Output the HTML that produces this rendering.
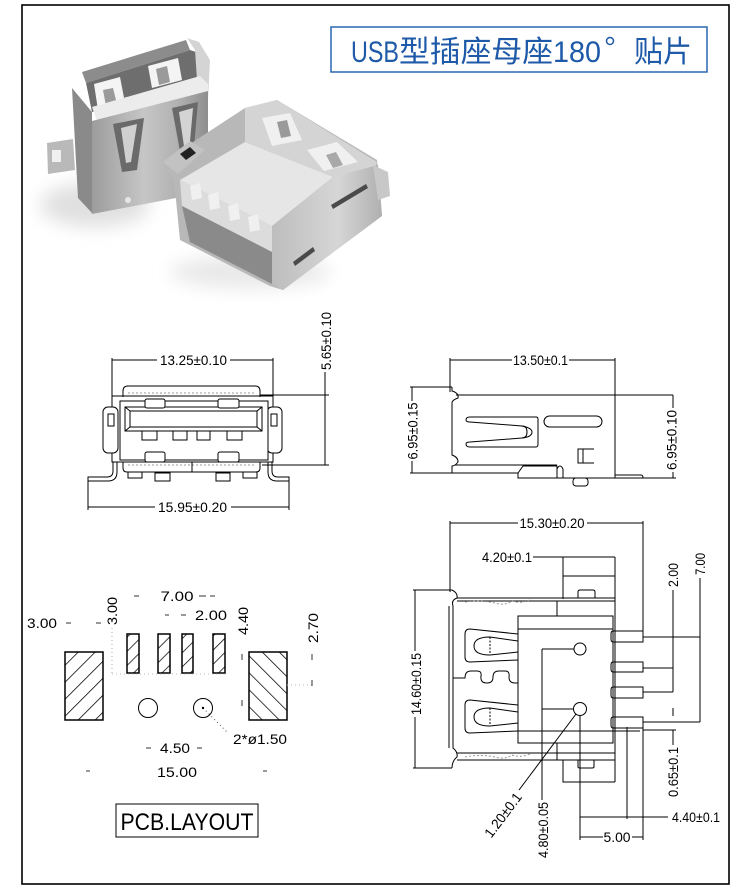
<!DOCTYPE html>
<html><head><meta charset="utf-8"><style>
html,body{margin:0;padding:0;background:#fff;}
svg{display:block;}
text{font-family:"Liberation Sans","Noto Sans CJK SC",sans-serif;fill:#000;}
</style></head><body>
<svg width="750" height="895" viewBox="0 0 750 895" xmlns="http://www.w3.org/2000/svg">
<defs>
<pattern id="hf" patternUnits="userSpaceOnUse" width="12" height="12" patternTransform="rotate(45)"><line x1="0" y1="0" x2="0" y2="12" stroke="#000" stroke-width="1.5"/></pattern>
<pattern id="hb" patternUnits="userSpaceOnUse" width="12" height="12" patternTransform="rotate(-45)"><line x1="0" y1="0" x2="0" y2="12" stroke="#000" stroke-width="1.5"/></pattern>
<pattern id="hs" patternUnits="userSpaceOnUse" width="10" height="10" patternTransform="rotate(45)"><line x1="0" y1="0" x2="0" y2="10" stroke="#000" stroke-width="1.5"/></pattern>
<linearGradient id="gL" x1="0" y1="0" x2="1" y2="0"><stop offset="0" stop-color="#9c9c9c"/><stop offset="0.45" stop-color="#c6c6c6"/><stop offset="0.75" stop-color="#b0b0b0"/><stop offset="1" stop-color="#8e8e8e"/></linearGradient>
<linearGradient id="gR" x1="0" y1="0" x2="1" y2="0"><stop offset="0" stop-color="#bdbdbd"/><stop offset="0.6" stop-color="#d6d6d6"/><stop offset="1" stop-color="#b0b0b0"/></linearGradient>
<filter id="blur" x="-50%" y="-50%" width="200%" height="200%"><feGaussianBlur stdDeviation="9"/></filter>
</defs>

<!-- frame -->
<rect x="22" y="5" width="707" height="879" fill="none" stroke="#000" stroke-width="1.6"/>

<!-- title -->
<rect x="331" y="27" width="376" height="45" fill="none" stroke="#2a66b0" stroke-width="1.5"/>
<text x="351" y="62" font-size="30" textLength="48" lengthAdjust="spacingAndGlyphs" style="fill:#1e5aa8">USB</text>
<text x="399" y="62" font-size="30" textLength="154" lengthAdjust="spacingAndGlyphs" style="fill:#1e5aa8">型插座母座</text>
<text x="553" y="62" font-size="30" textLength="48" lengthAdjust="spacingAndGlyphs" style="fill:#1e5aa8">180</text>
<text x="634" y="62" font-size="30" textLength="58" lengthAdjust="spacingAndGlyphs" style="fill:#1e5aa8">贴片</text>
<circle cx="610" cy="41" r="3.5" fill="none" stroke="#1e5aa8" stroke-width="1.5"/>

<!-- photo -->
<ellipse cx="95" cy="205" rx="55" ry="22" fill="#e0e0e0" filter="url(#blur)"/>
<ellipse cx="250" cy="272" rx="80" ry="16" fill="#e8e8e8" filter="url(#blur)"/>
<!-- left connector -->
<polygon points="47,143 73,139 75,170 48,174" fill="#b9b9b9"/>
<rect x="52" y="150" width="9" height="12" fill="#f0f0f0"/>
<polygon points="72,88 92,112 92,213 78,198" fill="#8a8a8a"/>
<polygon points="82,72 186,40 190,50 86,83" fill="#8c8c8c"/>
<polygon points="86,83 190,50 205,55 205,82 92,112" fill="#6e6e6e"/>
<polygon points="94,84 120,77 125,103 98,110" fill="#f4f4f4"/>
<polygon points="148,66 178,58 182,80 152,88" fill="#f4f4f4"/>
<polygon points="103,90 113,88 117,104 106,106" fill="#9a9a9a"/>
<polygon points="156,69 167,66 170,82 159,85" fill="#9a9a9a"/>
<polygon points="187,38 199,42 210,60 208,100 198,95 195,50" fill="#d4d4d4"/>
<polygon points="92,107 200,76 208,84 208,92 98,123" fill="#ececec"/>
<polygon points="92,121 208,91 208,182 176,198 92,214" fill="url(#gL)"/>
<polygon points="113,124 144,118 137,170 122,172" fill="#6a6a6a"/>
<polygon points="121,128 137,124 131,162 126,163" fill="#d0d0d0"/>
<polygon points="172,108 198,102 193,160 182,162" fill="#6a6a6a"/>
<polygon points="179,112 193,108 189,152 185,153" fill="#d4d4d4"/>
<circle cx="128" cy="200" r="3" fill="#e6e6e6"/>
<!-- right connector -->
<polygon points="163,163 193,142 245,108 277,100 377,160 382,215 283,290 270,286 180,240 174,180" fill="#b8b8b8"/>
<polygon points="245,108 277,100 377,162 373,173 333,177 245,142" fill="#d4d4d4"/>
<polygon points="262,118 290,113 302,140 272,146" fill="#f0f0f0"/>
<polygon points="307,150 337,142 358,162 324,171" fill="#f0f0f0"/>
<polygon points="277,122 287,120 291,136 281,138" fill="#9a9a9a"/>
<polygon points="326,155 336,152 343,165 333,168" fill="#a8a8a8"/>
<polygon points="180,180 245,142 333,177 272,226" fill="#e6e6e6"/>
<polygon points="180,180 272,226 272,252 182,206" fill="#dcdcdc"/>
<polygon points="182,206 272,252 272,284 190,242" fill="#8a8a8a"/>
<polygon points="190,186 200,183 202,198 192,200" fill="#f0f0f0"/>
<polygon points="208,195 218,192 220,208 210,210" fill="#f0f0f0"/>
<polygon points="228,206 238,203 240,219 230,221" fill="#f0f0f0"/>
<polygon points="248,217 258,214 260,230 250,232" fill="#f0f0f0"/>
<polygon points="163,162 190,141 205,150 178,174" fill="#c2c2c2"/>
<polygon points="180,154 190,147 196,153 186,160" fill="#222"/>
<polygon points="272,226 333,177 378,165 382,216 283,290 272,284" fill="url(#gR)"/>
<polygon points="331,205 366,184 368,188 333,209" fill="#4a4a4a"/>
<polygon points="293,262 313,247 315,251 295,266" fill="#4a4a4a"/>
<polygon points="373,165 388,172 390,196 378,200" fill="#c8c8c8"/>

<!-- FRONT VIEW -->
<g fill="none" stroke="#000" stroke-width="1">
<line x1="112" y1="360" x2="157" y2="360"/>
<line x1="230" y1="360" x2="273" y2="360"/>
<line x1="112" y1="358" x2="112" y2="396"/>
<line x1="273" y1="358" x2="273" y2="396"/>
<line x1="260" y1="395" x2="329" y2="395"/>
<line x1="262" y1="465" x2="329" y2="465"/>
<line x1="325" y1="372" x2="325" y2="465"/>
<path d="M123,397 V391 Q123,386 128,386 H255 Q260,386 260,391 V397"/>
<line x1="128" y1="393" x2="255" y2="393" stroke="#999" stroke-dasharray="2,2"/>
<rect x="112" y="396" width="161" height="66"/>
<rect x="103" y="407" width="15" height="46" rx="5" fill="#fff"/>
<rect x="267" y="407" width="15" height="46" rx="5" fill="#fff"/>
<rect x="108" y="414" width="6" height="12"/>
<rect x="271" y="414" width="6" height="12"/>
<rect x="120" y="401" width="148" height="59" fill="#fff"/>
<rect x="125" y="407" width="137" height="24"/>
<rect x="130" y="411" width="127" height="16"/>
<line x1="125" y1="407" x2="130" y2="411"/><line x1="262" y1="407" x2="257" y2="411"/>
<line x1="125" y1="431" x2="130" y2="427"/><line x1="262" y1="431" x2="257" y2="427"/>
<rect x="145" y="399" width="20" height="9" rx="2" fill="#fff"/>
<rect x="218" y="399" width="21" height="9" rx="2" fill="#fff"/>
<rect x="142" y="431" width="15" height="9"/>
<rect x="173" y="431" width="14" height="9"/>
<rect x="197" y="431" width="13" height="9"/>
<rect x="227" y="431" width="15" height="9"/>
<rect x="145" y="452" width="20" height="10" rx="2" fill="#fff"/>
<rect x="218" y="452" width="21" height="10" rx="2" fill="#fff"/>
<path d="M123,462 V468 Q123,472 127,472 H256 Q260,472 260,468 V462"/>
<line x1="128" y1="465" x2="255" y2="465" stroke="#999" stroke-dasharray="2,2"/>
<line x1="192" y1="462" x2="192" y2="472"/>
<path d="M113,462 V471 Q113,477 107,477 H88 V510"/>
<path d="M117,462 V472 Q117,481 108,481 H88"/>
<path d="M272,462 V471 Q272,477 278,477 H289 V510"/>
<path d="M268,462 V472 Q268,481 277,481 H289"/>
<rect x="128" y="472" width="14" height="6"/>
<rect x="155" y="473" width="15" height="8"/>
<rect x="216" y="473" width="14" height="8"/>
<rect x="243" y="472" width="14" height="6"/>
<line x1="88" y1="507" x2="155" y2="507"/>
<line x1="231" y1="507" x2="289" y2="507"/>
</g>
<text x="193.5" y="365" font-size="14" text-anchor="middle" textLength="67" lengthAdjust="spacingAndGlyphs">13.25±0.10</text>
<text x="192.5" y="512" font-size="14" text-anchor="middle" textLength="69" lengthAdjust="spacingAndGlyphs">15.95±0.20</text>
<text transform="translate(326,341) rotate(-90)" dy="0.35em" font-size="14" text-anchor="middle" textLength="58" lengthAdjust="spacingAndGlyphs">5.65±0.10</text>

<!-- SIDE VIEW -->
<g fill="none" stroke="#000" stroke-width="1">
<line x1="450" y1="360" x2="512" y2="360"/>
<line x1="569" y1="360" x2="615" y2="360"/>
<line x1="450" y1="358" x2="450" y2="392"/>
<line x1="615" y1="358" x2="615" y2="478"/>
<line x1="410" y1="387" x2="452" y2="387"/>
<line x1="410" y1="473" x2="452" y2="473"/>
<line x1="412" y1="387" x2="412" y2="401"/>
<line x1="412" y1="461" x2="412" y2="473"/>
<path d="M452,387 V391 Q459,393 458,398 Q452,400 452,403 V455 Q458,457 458,462 Q455,466 452,466 V473"/>
<line x1="456" y1="395" x2="673" y2="395"/>
<line x1="455" y1="465" x2="557" y2="465"/>
<line x1="452" y1="473" x2="518" y2="473"/>
<path d="M523,466 H557 V478 H518 V473 Z"/>
<path d="M557,478 V469 Q560,463 563,469 V478"/>
<line x1="557" y1="478" x2="643" y2="478"/>
<path d="M615,475 H641 Q643,475 643,478"/>
<rect x="573" y="478" width="15" height="8" rx="3"/>
<rect x="544" y="416" width="58" height="11" rx="5.5"/>
<path d="M594,449 H578 V463 H594"/>
<line x1="583" y1="449" x2="583" y2="463"/>
<path d="M470,417 Q466,417 466,420 Q466,422 470,422 L522,426 Q532,428 532,432 Q532,437 522,438 L470,442 Q466,442 466,444 Q466,447 470,447 H536 Q538,447 538,444 V419 Q538,417 536,417 Z"/>
<path d="M522,426 Q527,426 527,432 Q527,438 522,438"/>
<line x1="673" y1="395" x2="673" y2="408"/>
<line x1="673" y1="472" x2="673" y2="478"/>
<line x1="643" y1="478" x2="676" y2="478"/>
</g>
<text x="540.5" y="365" font-size="14" text-anchor="middle" textLength="55" lengthAdjust="spacingAndGlyphs">13.50±0.1</text>
<text transform="translate(412.5,431) rotate(-90)" dy="0.35em" font-size="14" text-anchor="middle" textLength="57" lengthAdjust="spacingAndGlyphs">6.95±0.15</text>
<text transform="translate(671.5,440) rotate(-90)" dy="0.35em" font-size="14" text-anchor="middle" textLength="60" lengthAdjust="spacingAndGlyphs">6.95±0.10</text>

<!-- BOTTOM VIEW -->
<g fill="none" stroke="#000" stroke-width="1">
<line x1="450" y1="523" x2="518" y2="523"/>
<line x1="587" y1="523" x2="643" y2="523"/>
<line x1="450" y1="521" x2="450" y2="592"/>
<line x1="643" y1="521" x2="643" y2="637"/>
<line x1="533" y1="557" x2="615" y2="557"/>
<line x1="563" y1="557" x2="563" y2="599"/>
<line x1="615" y1="557" x2="615" y2="782"/>
<line x1="563" y1="576" x2="615" y2="576"/>
<path d="M578,598 V592 Q578,590 580,590 H593 Q595,590 595,592 V598"/>
<line x1="413" y1="590" x2="452" y2="590"/>
<line x1="413" y1="768" x2="452" y2="768"/>
<line x1="415" y1="590" x2="415" y2="651"/>
<line x1="415" y1="717" x2="415" y2="768"/>
<path d="M452,590 Q458,593 457,598 Q451,600 453,606 V748 Q458,752 457,757 Q452,761 452,768"/>
<line x1="449" y1="606" x2="449" y2="748"/>
<line x1="457" y1="598" x2="615" y2="598"/>
<line x1="457" y1="601" x2="615" y2="601"/>
<path d="M465,602 Q480,600 495,603 Q505,606 512,601 Q520,604 530,600" stroke="#999" stroke-dasharray="2,2"/>
<line x1="557" y1="601" x2="557" y2="616"/>
<rect x="518" y="616" width="95" height="127"/>
<line x1="518" y1="629" x2="613" y2="629"/>
<line x1="518" y1="731" x2="640" y2="731"/>
<line x1="557" y1="743" x2="557" y2="760"/>
<line x1="457" y1="753" x2="615" y2="753"/>
<line x1="457" y1="760" x2="615" y2="760"/>
<path d="M465,757 Q480,754 495,757 Q505,760 512,755 Q520,758 530,754" stroke="#999" stroke-dasharray="2,2"/>
<path d="M563,760 V782 H615"/>
<path d="M578,760 V767 Q578,768 580,768 H592 Q594,768 594,767 V760"/>
<path d="M518,634 L470,629 Q465,629 465,634 L465,657 Q465,662 470,662 L518,660"/>
<path d="M518,641 L490,637 Q474,637 474,646 Q474,655 490,655 L518,652"/>
<line x1="490" y1="637" x2="490" y2="655" stroke-dasharray="2,1.5"/>
<path d="M518,705 L470,700 Q465,700 465,705 L465,728 Q465,733 470,733 L518,731"/>
<path d="M518,712 L490,708 Q474,708 474,717 Q474,726 490,726 L518,723"/>
<line x1="490" y1="708" x2="490" y2="726" stroke-dasharray="2,1.5"/>
<path d="M453,678 H465 Q465,671 471,671 H477 Q482,671 481,676 Q480,683 487,683 Q493,683 493,677 Q493,671 499,671 H505 Q510,671 509,677 Q509,683 515,683 H518"/>
<path d="M613,631 H643 V642 H613"/><path d="M613,631 Q611,631 611,634 V639 Q611,642 613,642"/>
<path d="M613,662 H643 V672 H613"/><path d="M613,662 Q611,662 611,665 V669 Q611,672 613,672"/>
<path d="M613,687 H643 V698 H613"/><path d="M613,687 Q611,687 611,690 V695 Q611,698 613,698"/>
<path d="M613,717 H643 V728 H613"/><path d="M613,717 Q611,717 611,720 V725 Q611,728 613,728"/>
<circle cx="580" cy="649" r="6"/>
<circle cx="580" cy="709" r="6.5"/>
<line x1="542" y1="649" x2="574" y2="649"/>
<line x1="542" y1="649" x2="542" y2="800"/>
<line x1="542" y1="709" x2="573" y2="709"/>
<line x1="580" y1="716" x2="580" y2="840"/>
<line x1="576" y1="714" x2="519" y2="790"/>
<line x1="627" y1="727" x2="627" y2="819"/>
<line x1="643" y1="718" x2="643" y2="840"/>
<line x1="580" y1="817" x2="668" y2="817"/>
<line x1="580" y1="837" x2="603" y2="837"/>
<line x1="632" y1="837" x2="643" y2="837"/>
<line x1="643" y1="637" x2="700" y2="637"/>
<line x1="643" y1="722" x2="700" y2="722"/>
<line x1="700" y1="578" x2="700" y2="722"/>
<line x1="643" y1="668" x2="673" y2="668"/>
<line x1="643" y1="692" x2="673" y2="692"/>
<line x1="673" y1="590" x2="673" y2="692"/>
<line x1="673" y1="708" x2="673" y2="716"/>
<line x1="643" y1="730" x2="676" y2="730"/>
<line x1="673" y1="730" x2="673" y2="745"/>
</g>
<text x="552" y="528" font-size="14" text-anchor="middle" textLength="65" lengthAdjust="spacingAndGlyphs">15.30±0.20</text>
<text x="507" y="562" font-size="14" text-anchor="middle" textLength="50" lengthAdjust="spacingAndGlyphs">4.20±0.1</text>
<text transform="translate(700,564) rotate(-90)" dy="0.35em" font-size="14" text-anchor="middle" textLength="22" lengthAdjust="spacingAndGlyphs">7.00</text>
<text transform="translate(673,575) rotate(-90)" dy="0.35em" font-size="14" text-anchor="middle" textLength="24" lengthAdjust="spacingAndGlyphs">2.00</text>
<text transform="translate(416,684) rotate(-90)" dy="0.35em" font-size="14" text-anchor="middle" textLength="62" lengthAdjust="spacingAndGlyphs">14.60±0.15</text>
<text transform="translate(503,815) rotate(-53)" dy="0.35em" font-size="14" text-anchor="middle" textLength="52" lengthAdjust="spacingAndGlyphs">1.20±0.1</text>
<text transform="translate(543,830) rotate(-90)" dy="0.35em" font-size="14" text-anchor="middle" textLength="56" lengthAdjust="spacingAndGlyphs">4.80±0.05</text>
<text transform="translate(673,772) rotate(-90)" dy="0.35em" font-size="14" text-anchor="middle" textLength="50" lengthAdjust="spacingAndGlyphs">0.65±0.1</text>
<text x="696" y="822" font-size="14" text-anchor="middle" textLength="48" lengthAdjust="spacingAndGlyphs">4.40±0.1</text>
<text x="617" y="842" font-size="14" text-anchor="middle" textLength="27" lengthAdjust="spacingAndGlyphs">5.00</text>

<!-- PCB LAYOUT -->
<g stroke="#000" stroke-width="1.5">
<rect x="127" y="634" width="12" height="39" fill="url(#hs)"/>
<rect x="158" y="634" width="12" height="39" fill="url(#hs)"/>
<rect x="182" y="634" width="11" height="39" fill="url(#hs)"/>
<rect x="213" y="634" width="12" height="39" fill="url(#hs)"/>
<rect x="65" y="652" width="38" height="68" fill="url(#hf)"/>
<rect x="249" y="652" width="38" height="68" fill="url(#hb)"/>
</g>
<g fill="none" stroke="#000" stroke-width="1">
<circle cx="148" cy="708" r="9.5"/>
<circle cx="203" cy="708" r="9.5"/>
<line x1="203" y1="708" x2="228" y2="733" stroke="#555" stroke-dasharray="1,3"/>
<line x1="112" y1="628" x2="112" y2="673" stroke="#aaa" stroke-dasharray="1,3"/>
<line x1="112" y1="674" x2="228" y2="674" stroke="#bbb" stroke-dasharray="1,3"/>
<line x1="287" y1="685" x2="312" y2="685" stroke="#bbb" stroke-dasharray="1,3"/>
<rect x="116" y="804" width="142" height="33"/>
</g>
<circle cx="203" cy="708" r="1.2" fill="#000"/>
<g stroke="#333" stroke-width="1">
<line x1="134" y1="596" x2="139" y2="596"/>
<line x1="199" y1="596" x2="206" y2="596"/>
<line x1="210" y1="596" x2="215" y2="596"/>
<line x1="66" y1="623" x2="71" y2="623"/>
<line x1="96" y1="623" x2="101" y2="623"/>
<line x1="165" y1="615" x2="169" y2="615"/>
<line x1="181" y1="615" x2="186" y2="615"/>
<line x1="242" y1="654" x2="242" y2="660"/>
<line x1="242" y1="700" x2="242" y2="706"/>
<line x1="312" y1="654" x2="312" y2="660"/>
<line x1="312" y1="680" x2="312" y2="686"/>
<line x1="146" y1="748" x2="151" y2="748"/>
<line x1="197" y1="748" x2="202" y2="748"/>
<line x1="86" y1="771" x2="90" y2="771"/>
<line x1="263" y1="771" x2="267" y2="771"/>
</g>
<text x="177" y="601" font-size="14" text-anchor="middle" textLength="33" lengthAdjust="spacingAndGlyphs">7.00</text>
<text x="42" y="628" font-size="14" text-anchor="middle" textLength="30" lengthAdjust="spacingAndGlyphs">3.00</text>
<text x="211" y="620" font-size="14" text-anchor="middle" textLength="32" lengthAdjust="spacingAndGlyphs">2.00</text>
<text transform="translate(112,611) rotate(-90)" dy="0.35em" font-size="14" text-anchor="middle" textLength="28" lengthAdjust="spacingAndGlyphs">3.00</text>
<text transform="translate(243,621) rotate(-90)" dy="0.35em" font-size="14" text-anchor="middle" textLength="28" lengthAdjust="spacingAndGlyphs">4.40</text>
<text transform="translate(313,628) rotate(-90)" dy="0.35em" font-size="14" text-anchor="middle" textLength="30" lengthAdjust="spacingAndGlyphs">2.70</text>
<text x="260" y="744" font-size="14" text-anchor="middle" textLength="54" lengthAdjust="spacingAndGlyphs">2*ø1.50</text>
<text x="175" y="753" font-size="14" text-anchor="middle" textLength="30" lengthAdjust="spacingAndGlyphs">4.50</text>
<text x="177" y="777" font-size="14" text-anchor="middle" textLength="40" lengthAdjust="spacingAndGlyphs">15.00</text>
<text x="187" y="830" font-size="24" text-anchor="middle" textLength="133" lengthAdjust="spacingAndGlyphs">PCB.LAYOUT</text>
</svg>
</body></html>
